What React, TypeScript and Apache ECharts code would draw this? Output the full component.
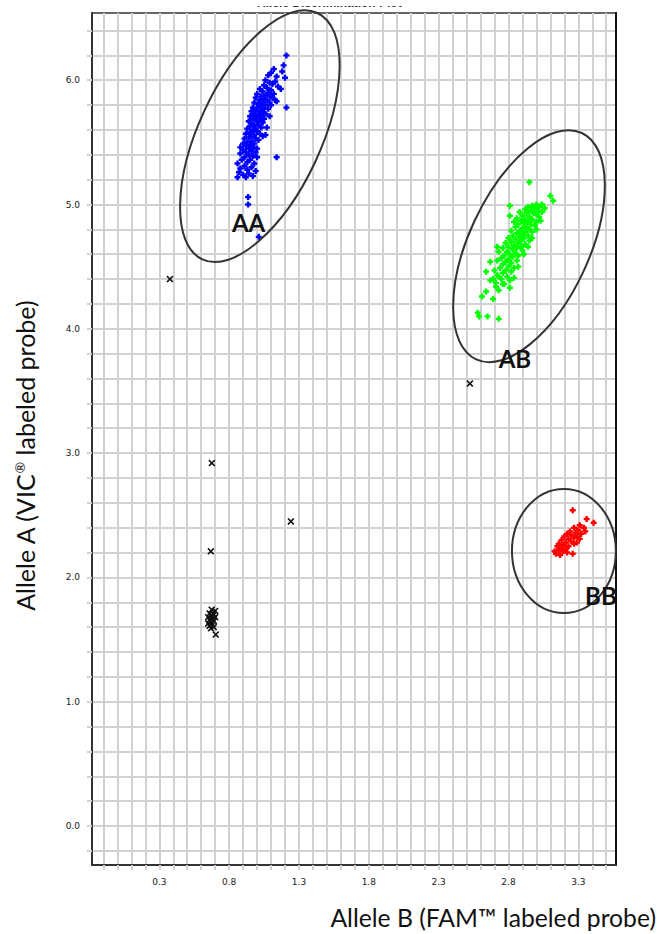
import React, { useEffect, useRef } from "react";
import * as echarts from "echarts";

// ---------- axes ----------
const xMin = -0.182;
const xMax = 3.57;
const yMin = -0.314;
const yMax = 6.541;
const xTickValues = [-0.1, 0, 0.1, 0.2, 0.3, 0.4, 0.5, 0.6, 0.7, 0.8, 0.9, 1.0, 1.1, 1.2, 1.3, 1.4, 1.5, 1.6, 1.7, 1.8, 1.9, 2.0, 2.1, 2.2, 2.3, 2.4, 2.5, 2.6, 2.7, 2.8, 2.9, 3.0, 3.1, 3.2, 3.3, 3.4, 3.5];
const xLabelValues = [0.3, 0.8, 1.3, 1.8, 2.3, 2.8, 3.3];
const yTickValues = [-0.2, 0, 0.2, 0.4, 0.6, 0.8, 1.0, 1.2, 1.4, 1.6, 1.8, 2.0, 2.2, 2.4, 2.6, 2.8, 3.0, 3.2, 3.4, 3.6, 3.8, 4.0, 4.2, 4.4, 4.6, 4.8, 5.0, 5.2, 5.4, 5.6, 5.8, 6.0, 6.2, 6.4];
const yLabelValues = [0, 1, 2, 3, 4, 5, 6];

// ---------- data: [Allele B (FAM), Allele A (VIC)] ----------
const homozygousAA = [
  [1.21, 6.2], [1.19, 6.12], [1.18, 6.07], [1.2, 6.02], [1.12, 6.09], [1.08, 6.04], [1.1, 6.06], [1.14, 6.03], [1.13, 5.99], [1.06, 6.0],
  [1.11, 5.97], [1.15, 5.95], [1.09, 5.98], [1.17, 5.93], [1.21, 5.78], [1.14, 5.83], [1.14, 5.38],
  [1.05, 5.96], [1.07, 5.94], [1.02, 5.93], [1.1, 5.92], [1.04, 5.91], [1.08, 5.9], [1.12, 5.89], [1.0, 5.89], [1.06, 5.88],
  [1.03, 5.87], [1.09, 5.87], [1.11, 5.86], [0.99, 5.86], [1.05, 5.85], [1.07, 5.84], [1.02, 5.84], [1.13, 5.84], [1.04, 5.82],
  [1.09, 5.82], [0.98, 5.82], [1.01, 5.81], [1.06, 5.8], [1.1, 5.8],
  [1.03, 5.79], [0.97, 5.78], [1.0, 5.78], [1.05, 5.77], [1.08, 5.77], [0.99, 5.76], [1.02, 5.75], [0.96, 5.75], [1.04, 5.74],
  [1.06, 5.73], [0.98, 5.73], [1.01, 5.72], [0.95, 5.71], [1.03, 5.71], [0.99, 5.7], [1.05, 5.69], [0.97, 5.69], [1.02, 5.68],
  [0.94, 5.67], [1.0, 5.67], [1.04, 5.66], [0.96, 5.65], [0.98, 5.64], [1.01, 5.64], [0.95, 5.63], [1.03, 5.62], [0.99, 5.61],
  [0.93, 5.61], [0.97, 5.6], [1.0, 5.59], [0.95, 5.58], [1.02, 5.57], [0.92, 5.57], [0.98, 5.56], [0.96, 5.55], [1.04, 5.55],
  [0.94, 5.54], [0.99, 5.53], [0.91, 5.53], [1.01, 5.52], [0.96, 5.51], [0.93, 5.5], [0.98, 5.49], [1.06, 5.56], [1.07, 5.62], [1.09, 5.71],
  [0.9, 5.49], [0.95, 5.48], [0.92, 5.47], [0.88, 5.46], [0.97, 5.46], [0.94, 5.45], [1.0, 5.45], [0.9, 5.44], [0.96, 5.43],
  [0.92, 5.42], [0.99, 5.42], [0.88, 5.41], [0.94, 5.4], [0.97, 5.39], [0.91, 5.38], [1.0, 5.38], [0.89, 5.36], [0.95, 5.36],
  [0.93, 5.34], [0.98, 5.33], [0.86, 5.33], [0.91, 5.31], [0.96, 5.3], [0.88, 5.29], [0.93, 5.28], [0.99, 5.27], [0.87, 5.26],
  [0.94, 5.25], [0.9, 5.24], [0.97, 5.23], [0.92, 5.22], [0.86, 5.22],
  [0.936, 5.06], [0.936, 5.0], [1.012, 4.74]
];
const heterozygousAB = [
  [2.95, 5.18], [3.1, 5.07], [3.12, 5.03], [3.04, 5.0], [3.0, 5.0], [2.97, 4.99], [3.02, 4.98], [2.94, 4.98], [2.99, 4.97], [3.06, 4.97],
  [2.92, 4.96], [3.01, 4.95], [2.96, 4.95], [3.04, 4.94], [2.88, 4.94], [2.93, 4.93], [2.98, 4.93], [3.0, 4.92], [2.81, 4.99], [2.81, 4.91],
  [2.9, 4.91], [2.95, 4.9], [3.02, 4.9], [2.86, 4.89], [2.92, 4.88], [2.97, 4.88], [2.89, 4.87], [3.0, 4.86], [2.94, 4.86], [2.84, 4.86],
  [2.91, 4.85], [2.96, 4.84], [2.87, 4.84], [2.99, 4.83], [2.93, 4.82], [2.85, 4.82], [2.9, 4.81], [2.95, 4.8], [2.88, 4.79], [2.82, 4.79],
  [2.92, 4.78], [2.97, 4.78], [2.86, 4.77], [2.9, 4.76], [2.83, 4.75], [2.94, 4.75], [2.88, 4.74], [2.8, 4.73], [2.91, 4.73], [2.85, 4.72],
  [2.89, 4.71], [2.95, 4.71], [2.82, 4.7], [2.87, 4.69], [2.78, 4.69], [2.92, 4.68], [2.84, 4.67], [2.89, 4.66], [2.8, 4.66], [2.86, 4.65],
  [2.76, 4.65], [2.83, 4.64], [2.9, 4.63], [2.79, 4.62], [2.85, 4.61], [2.73, 4.62], [2.81, 4.6], [2.87, 4.59], [2.77, 4.59], [2.83, 4.58],
  [2.75, 4.57], [2.8, 4.56], [2.86, 4.55], [2.78, 4.54], [2.72, 4.55], [2.82, 4.53], [2.76, 4.52], [2.8, 4.5], [2.84, 4.49], [2.74, 4.49],
  [2.78, 4.47], [2.7, 4.47], [2.82, 4.46], [2.76, 4.45], [2.72, 4.43], [2.79, 4.42], [2.73, 4.42], [2.75, 4.4], [2.69, 4.4], [2.81, 4.39],
  [2.71, 4.37], [2.76, 4.36], [2.67, 4.39], [2.64, 4.46], [2.67, 4.54], [2.72, 4.66], [2.71, 4.34], [2.81, 4.33], [2.73, 4.31], [2.64, 4.3],
  [2.61, 4.26], [2.69, 4.24], [2.58, 4.13], [2.65, 4.1], [2.59, 4.1], [2.73, 4.08], [2.77, 4.36], [2.84, 4.41], [2.87, 4.5], [2.91, 4.6],
  [2.94, 4.66], [2.97, 4.73], [3.0, 4.8], [3.03, 4.87]
];
const homozygousBB = [
  [3.26, 2.54], [3.41, 2.44], [3.36, 2.47], [3.31, 2.42], [3.34, 2.4], [3.27, 2.4], [3.3, 2.38], [3.24, 2.37], [3.35, 2.37], [3.28, 2.36],
  [3.22, 2.35], [3.32, 2.35], [3.25, 2.34], [3.29, 2.33], [3.2, 2.33], [3.27, 2.32], [3.23, 2.31], [3.18, 2.3], [3.31, 2.31], [3.25, 2.29],
  [3.21, 2.28], [3.16, 2.27], [3.27, 2.27], [3.19, 2.26], [3.23, 2.25], [3.15, 2.25], [3.18, 2.24], [3.21, 2.23], [3.16, 2.22], [3.13, 2.21],
  [3.19, 2.21], [3.14, 2.19], [3.17, 2.18], [3.26, 2.19], [3.22, 2.2], [3.29, 2.28]
];
const undetermined = [
  [0.376, 4.4], [2.524, 3.56], [0.676, 2.92], [1.242, 2.45], [0.669, 2.21],
  [0.675, 1.74], [0.7, 1.73], [0.66, 1.71], [0.69, 1.7], [0.67, 1.69], [0.65, 1.68], [0.68, 1.67], [0.7, 1.68], [0.66, 1.66],
  [0.69, 1.65], [0.67, 1.64], [0.65, 1.63], [0.68, 1.62], [0.66, 1.61], [0.69, 1.6], [0.67, 1.59], [0.704, 1.54]
];
// cluster ovals: [centre B, centre A, long semi-axis, short semi-axis (in A units), tilt deg]
const clusterOvals = [
  [1.02, 5.55, 1.094, 0.491, -25],
  [2.947, 4.665, 1.005, 0.483, -25],
  [3.197, 2.212, 0.499, 0.418, 0]
];
const clusterNames = [
  [0.939, 4.858, "AA"],
  [2.846, 3.764, "AB"],
  [3.462, 1.858, "BB"]
];

const titleText = "Allele Discrimination Plot";
const xTitle = "Allele B (FAM\u2122 labeled probe)";

const GRID = "#d2d2d2";
const plusSymbol = "path://M3,0L7,0L7,3L10,3L10,7L7,7L7,10L3,10L3,7L0,7L0,3L3,3Z";
const crossSymbol = "path://M0,1.6L1.6,0L5,3.4L8.4,0L10,1.6L6.6,5L10,8.4L8.4,10L5,6.6L1.6,10L0,8.4L3.4,5Z";

export default function App() {
  const ref = useRef<HTMLDivElement>(null);
  useEffect(() => {
    if (!ref.current) return;
    const chart = echarts.init(ref.current, undefined, { renderer: "svg" });
    const labelStyle = { fontFamily: "DejaVu Sans", fontSize: 9, color: "#222" };
    const option: any = {
      animation: false,
      backgroundColor: "#ffffff",
      grid: { left: 92, top: 13, right: 43, bottom: 69, show: true, borderColor: "#666", borderWidth: 2 },
      xAxis: {
        type: "value", min: xMin, max: xMax,
        axisLine: { show: true, onZero: false, lineStyle: { color: "#333", width: 2 } },
        axisTick: { show: true, length: 5, customValues: xTickValues, lineStyle: { color: GRID, width: 2 } },
        axisLabel: { show: true, customValues: xLabelValues, margin: 12, formatter: (v: number) => v.toFixed(1), ...labelStyle },
        splitLine: { show: true, lineStyle: { color: GRID, width: 2 } }
      },
      yAxis: [
        {
          type: "value", min: yMin, max: yMax, position: "left",
          axisLine: { show: true, onZero: false, lineStyle: { color: "#333", width: 2 } },
          axisTick: { show: true, length: 5, customValues: yTickValues, lineStyle: { color: GRID, width: 2 } },
          axisLabel: { show: true, customValues: yLabelValues, margin: 12, formatter: (v: number) => v.toFixed(1), ...labelStyle },
          splitLine: { show: true, lineStyle: { color: GRID, width: 2 } }
        },
        {
          type: "value", min: yMin, max: yMax, position: "left",
          axisLine: { show: false },
          axisTick: { show: true, length: 10, customValues: yLabelValues, lineStyle: { color: GRID, width: 2 } },
          axisLabel: { show: false },
          splitLine: { show: false }
        },
        {
          type: "value", min: yMin, max: yMax, position: "right",
          axisLine: { show: true, lineStyle: { color: "#111", width: 2 } },
          axisTick: { show: false },
          axisLabel: { show: false },
          splitLine: { show: false }
        }
      ],
      series: [
        { name: "AA", type: "scatter", data: homozygousAA, symbol: plusSymbol, symbolSize: 6, itemStyle: { color: "#0000ff", opacity: 1 }, z: 3 },
        { name: "AB", type: "scatter", data: heterozygousAB, symbol: plusSymbol, symbolSize: 6, itemStyle: { color: "#00ff00", opacity: 1 }, z: 3 },
        { name: "BB", type: "scatter", data: homozygousBB, symbol: plusSymbol, symbolSize: 6, itemStyle: { color: "#ff0000", opacity: 1 }, z: 3 },
        { name: "Undetermined", type: "scatter", data: undetermined, symbol: crossSymbol, symbolSize: 7, itemStyle: { color: "#111", opacity: 1 }, z: 3 },
        {
          name: "ovals", type: "custom", data: clusterOvals, clip: false, silent: true, z: 4,
          encode: { x: 0, y: 1 },
          renderItem: (_p: any, api: any) => {
            const c = api.coord([api.value(0), api.value(1)]);
            const unit = api.size([0, 1])[1];
            return {
              type: "ellipse",
              x: c[0], y: c[1],
              rotation: (api.value(4) * Math.PI) / 180,
              shape: { cx: 0, cy: 0, rx: api.value(3) * unit, ry: api.value(2) * unit },
              style: { fill: "none", stroke: "#333", lineWidth: 2 }
            };
          }
        },
        {
          name: "names", type: "custom", data: clusterNames, clip: false, silent: true, z: 5,
          encode: { x: 0, y: 1 },
          dimensions: ["x", "y", { name: "label", type: "ordinal" }],
          renderItem: (p: any, api: any) => {
            const c = api.coord([api.value(0), api.value(1)]);
            return {
              type: "text",
              x: c[0], y: c[1],
              style: {
                text: clusterNames[p.dataIndex][2],
                fill: "#111", fontSize: 24, fontWeight: "bold", fontFamily: "Lato",
                align: "center", verticalAlign: "middle"
              }
            };
          }
        }
      ],
      graphic: [
        {
          type: "text", left: 257, top: -3, z: 1,
          style: { text: titleText, fill: "#333", font: "bold 12px 'Liberation Sans'" }
        },
        { type: "rect", left: 240, top: 0, shape: { width: 200, height: 6 }, style: { fill: "#fff" }, z: 2 },
        {
          type: "text", x: 25, y: 456, rotation: Math.PI / 2,
          style: {
            text: "{a|Allele A (VIC}{b|\u00ae}{a| labeled probe)}",
            rich: {
              a: { fontSize: 25, fontFamily: "Lato", fill: "#111", color: "#111" },
              b: { fontSize: 14, fontFamily: "Lato", fill: "#111", color: "#111", verticalAlign: "top" }
            },
            align: "center", verticalAlign: "middle", textAlign: "center", textVerticalAlign: "middle"
          }
        },
        {
          type: "text", x: 656, y: 917,
          style: {
            text: xTitle, fill: "#111", fontSize: 24.7, fontFamily: "Lato",
            align: "right", verticalAlign: "middle", textAlign: "right", textVerticalAlign: "middle"
          }
        }
      ]
    };
    chart.setOption(option);
    return () => chart.dispose();
  }, []);
  return <div ref={ref} style={{ position: "fixed", left: 0, top: 0, width: 659, height: 934, background: "#fff" }} />;
}
